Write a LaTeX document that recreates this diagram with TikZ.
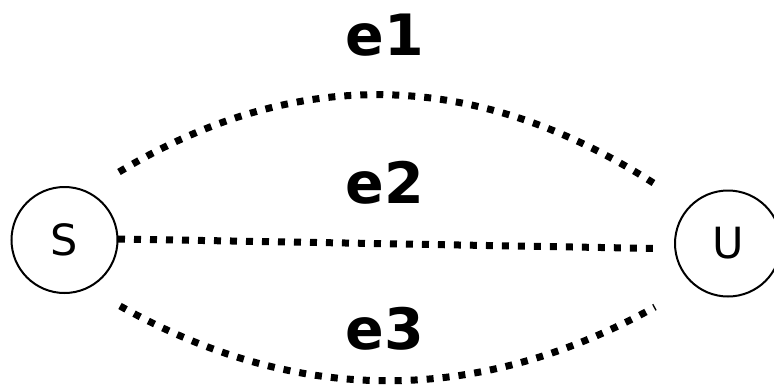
\documentclass[tikz,border=0pt]{standalone}
\usepackage{fontspec}
\setmainfont{DejaVu Sans}
\begin{document}
\begin{tikzpicture}[x=1pt,y=-1pt,
  vertex/.style={circle,draw=black,line width=2pt,minimum size=106pt,inner sep=0pt,font=\fontsize{43}{50}\selectfont},
  edgelabel/.style={anchor=base,inner sep=0pt,font=\fontsize{57}{64}\selectfont\bfseries},
  dotted edge/.style={line width=7pt,dash pattern=on 7pt off 9pt,line cap=butt}]
\useasboundingbox (0,0) rectangle (774,389);
\node[vertex] (S) at (64.5,240) {S};
\node[vertex] (U) at (728,243.5) {U};
\coordinate (a1) at (119,172);
\coordinate (b1) at (655,184);
\coordinate (a2) at (118,239);
\coordinate (b2) at (658,248.5);
\coordinate (a3) at (120,306);
\coordinate (b3) at (655,307);
\draw[dotted edge] (a1) .. controls (297,65) and (476,69) .. (b1);
\draw[dotted edge] (a2) -- (b2);
\draw[dotted edge] (a3) .. controls (297,405) and (476,406) .. (b3);
\node[edgelabel] (l1) at (385,55) {e1};
\node[edgelabel] (l2) at (385,203) {e2};
\node[edgelabel] (l3) at (385,349) {e3};
\end{tikzpicture}
\end{document}
